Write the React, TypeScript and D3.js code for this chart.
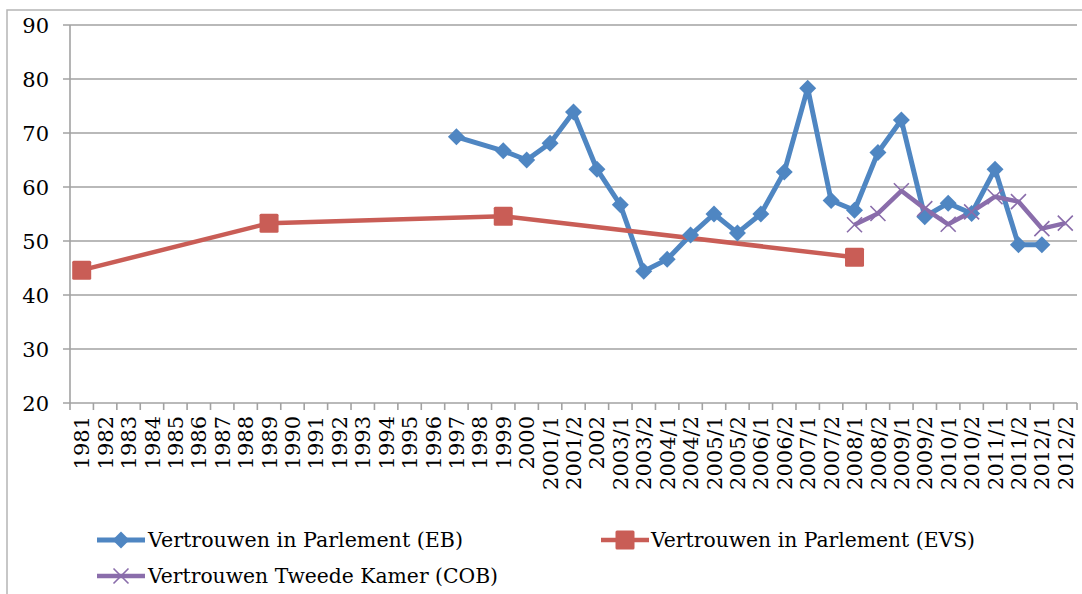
import * as d3 from "d3";

const categories = [
  "1981", "1982", "1983", "1984", "1985", "1986", "1987", "1988", "1989", "1990",
  "1991", "1992", "1993", "1994", "1995", "1996", "1997", "1998", "1999", "2000",
  "2001/1", "2001/2", "2002", "2003/1", "2003/2", "2004/1", "2004/2", "2005/1", "2005/2",
  "2006/1", "2006/2", "2007/1", "2007/2", "2008/1", "2008/2", "2009/1", "2009/2",
  "2010/1", "2010/2", "2011/1", "2011/2", "2012/1", "2012/2",
];

// Vertrouwen in Parlement (EB)
const ebSeries: [string, number][] = [
  ["1997", 69.3], ["1999", 66.7], ["2000", 65.0], ["2001/1", 68.1], ["2001/2", 73.9],
  ["2002", 63.3], ["2003/1", 56.7], ["2003/2", 44.4], ["2004/1", 46.6], ["2004/2", 51.1],
  ["2005/1", 55.0], ["2005/2", 51.5], ["2006/1", 55.0], ["2006/2", 62.8], ["2007/1", 78.3],
  ["2007/2", 57.5], ["2008/1", 55.7], ["2008/2", 66.4], ["2009/1", 72.4], ["2009/2", 54.5],
  ["2010/1", 57.0], ["2010/2", 55.1], ["2011/1", 63.3], ["2011/2", 49.3], ["2012/1", 49.3],
];

// Vertrouwen in Parlement (EVS)
const evsSeries: [string, number][] = [
  ["1981", 44.6], ["1989", 53.3], ["1999", 54.6], ["2008/1", 47.0],
];

// Vertrouwen Tweede Kamer (COB)
const cobSeries: [string, number][] = [
  ["2008/1", 53.0], ["2008/2", 55.1], ["2009/1", 59.3], ["2009/2", 56.0], ["2010/1", 53.1],
  ["2010/2", 55.4], ["2011/1", 58.2], ["2011/2", 57.3], ["2012/1", 52.3], ["2012/2", 53.3],
];

const yTicks = [20, 30, 40, 50, 60, 70, 80, 90];

const BLUE = "#4F86C2";
const RED = "#C95D56";
const PURPLE = "#8A6DAB";
const GRID = "#A2A2A2";
const FONT = "'DejaVu Serif', serif";

const W = 1082;
const H = 594;
const plot = { left: 70, right: 1077, top: 25, bottom: 403 };

export default function App() {
  const x = d3.scaleBand<string>().domain(categories).range([plot.left, plot.right]);
  const y = d3.scaleLinear().domain([20, 90]).range([plot.bottom, plot.top]);
  const cx = (c: string) => (x(c) ?? 0) + x.bandwidth() / 2;

  const line = d3
    .line<[string, number]>()
    .x((d) => cx(d[0]))
    .y((d) => y(d[1]));

  const diamond = (px: number, py: number, r: number) =>
    `M${px},${py - r}L${px + r},${py}L${px},${py + r}L${px - r},${py}Z`;

  const cross = (px: number, py: number, r: number) =>
    `M${px - r},${py - r}L${px + r},${py + r}M${px - r},${py + r}L${px + r},${py - r}`;

  return (
    <svg
      width={W}
      height={H}
      style={{ position: "absolute", left: 0, top: 0, background: "#fff" }}
    >
      {/* outer chart frame */}
      <rect x={7} y={10} width={W + 20} height={H + 20} fill="none" stroke="#B5B5B5" strokeWidth={1.5} />

      {/* horizontal gridlines + y labels */}
      {yTicks.map((t) => (
        <g key={t}>
          <line x1={plot.left - 7} x2={plot.right} y1={y(t)} y2={y(t)} stroke={GRID} strokeWidth={1.6} />
          <text
            x={49}
            y={y(t)}
            dy="0.36em"
            textAnchor="end"
            fontFamily={FONT}
            fontSize={21}
            fill="#000"
          >
            {t}
          </text>
        </g>
      ))}

      {/* axes */}
      <line x1={plot.left} x2={plot.left} y1={plot.top} y2={plot.bottom} stroke={GRID} strokeWidth={1.6} />
      {categories.concat([""]).map((c, i) => {
        const px = plot.left + i * x.step();
        return (
          <line key={"t" + i} x1={px} x2={px} y1={plot.bottom} y2={plot.bottom + 7} stroke={GRID} strokeWidth={1.6} />
        );
      })}

      {/* x labels */}
      {categories.map((c) => (
        <text
          key={c}
          transform={`translate(${cx(c)},${plot.bottom + 13}) rotate(-90)`}
          dy="0.36em"
          textAnchor="end"
          fontFamily={FONT}
          fontSize={21}
          fill="#000"
        >
          {c}
        </text>
      ))}

      {/* series lines */}
      <path d={line(ebSeries) ?? ""} fill="none" stroke={BLUE} strokeWidth={5} strokeLinejoin="round" />
      <path d={line(evsSeries) ?? ""} fill="none" stroke={RED} strokeWidth={4.5} strokeLinejoin="round" />
      <path d={line(cobSeries) ?? ""} fill="none" stroke={PURPLE} strokeWidth={4.5} strokeLinejoin="round" />

      {/* markers */}
      {ebSeries.map(([c, v]) => (
        <path key={"eb" + c} d={diamond(cx(c), y(v), 8.5)} fill={BLUE} />
      ))}
      {evsSeries.map(([c, v]) => (
        <rect key={"evs" + c} x={cx(c) - 9.5} y={y(v) - 9.5} width={19} height={19} rx={1.5} fill={RED} />
      ))}
      {cobSeries.map(([c, v]) => (
        <path key={"cob" + c} d={cross(cx(c), y(v), 7.5)} stroke={PURPLE} strokeWidth={1.6} fill="none" />
      ))}

      {/* legend */}
      <g fontFamily={FONT} fontSize={20} fill="#000">
        <line x1={97} x2={145} y1={540} y2={540} stroke={BLUE} strokeWidth={5} />
        <path d={diamond(121, 540, 8.5)} fill={BLUE} />
        <text x={148} y={540} dy="0.36em" textLength={315} lengthAdjust="spacingAndGlyphs">
          Vertrouwen in Parlement (EB)
        </text>

        <line x1={601} x2={649} y1={540} y2={540} stroke={RED} strokeWidth={4.5} />
        <rect x={625 - 9.5} y={540 - 9.5} width={19} height={19} rx={1.5} fill={RED} />
        <text x={651} y={540} dy="0.36em" textLength={324} lengthAdjust="spacingAndGlyphs">
          Vertrouwen in Parlement (EVS)
        </text>

        <line x1={97} x2={145} y1={576} y2={576} stroke={PURPLE} strokeWidth={4.5} />
        <path d={cross(121, 576, 7.5)} stroke={PURPLE} strokeWidth={1.6} fill="none" />
        <text x={148} y={576} dy="0.36em" textLength={350} lengthAdjust="spacingAndGlyphs">
          Vertrouwen Tweede Kamer (COB)
        </text>
      </g>
    </svg>
  );
}
